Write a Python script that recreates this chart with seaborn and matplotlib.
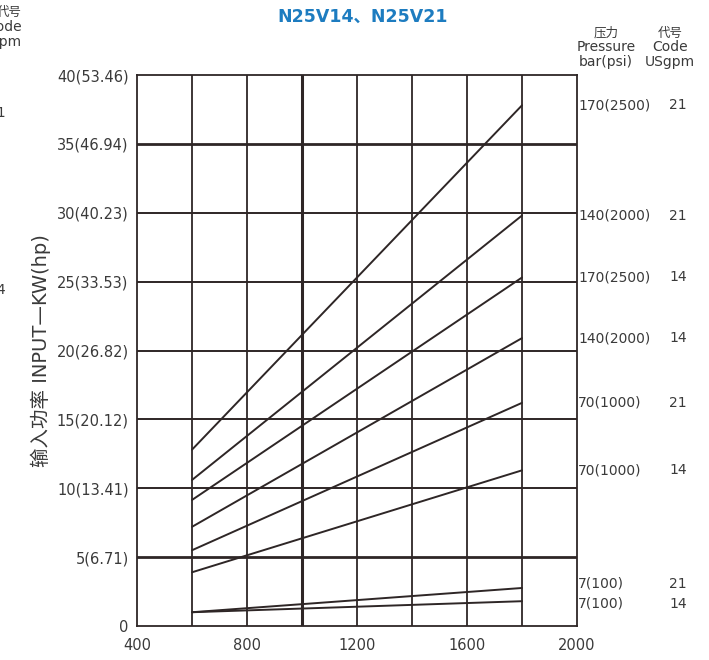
import matplotlib
matplotlib.use("Agg")
import matplotlib.pyplot as plt
import seaborn as sns
import pandas as pd

# speed (rpm) where each curve starts / ends
speed = [600, 1800]

# input power (kW) at start and end speed, one pair per curve, top to bottom
kw_start = [12.8, 10.6, 9.15, 7.2, 5.5, 3.9, 1.0, 1.0]
kw_end = [37.8, 29.8, 25.3, 20.9, 16.2, 11.3, 2.76, 1.8]
pressure_labels = ['170(2500)', '140(2000)', '170(2500)', '140(2000)',
                   '70(1000)', '70(1000)', '7(100)', '7(100)']
code_labels = ['21', '21', '14', '14', '21', '14', '21', '14']

y_ticks = [0, 5, 10, 15, 20, 25, 30, 35, 40]
y_tick_labels = ['0', '5(6.71)', '10(13.41)', '15(20.12)', '20(26.82)',
                 '25(33.53)', '30(40.23)', '35(46.94)', '40(53.46)']
x_ticks = [400, 800, 1200, 1600, 2000]

rows = []
for i in range(len(kw_start)):
    rows.append({'rpm': speed[0], 'kw': kw_start[i], 'curve': i})
    rows.append({'rpm': speed[1], 'kw': kw_end[i], 'curve': i})
df = pd.DataFrame(rows)

sns.set_style("white")
fam = ['DejaVu Sans', 'Noto Sans CJK SC']
plt.rcParams['font.family'] = fam

ink = '#2e2626'
text_c = '#3a3a3a'

fig = plt.figure(figsize=(7.09, 6.60), dpi=100)
ax = fig.add_axes([137 / 709, 34 / 660, 440 / 709, 551 / 660])

# grid
for x in range(600, 2000, 200):
    ax.axvline(x, color=ink, lw=2.2 if x == 1000 else 1.3, zorder=1)
for y in range(5, 40, 5):
    ax.axhline(y, color=ink, lw=2.0 if y in (5, 35) else 1.4, zorder=1)

sns.lineplot(data=df, x='rpm', y='kw', units='curve', estimator=None,
             color=ink, lw=1.4, ax=ax, zorder=3)

ax.set_xlim(400, 2000)
ax.set_ylim(0, 40)
ax.set_xticks(x_ticks)
ax.set_yticks(y_ticks)
ax.set_yticklabels(y_tick_labels)
ax.tick_params(axis='both', labelsize=10.5, colors=text_c, length=4, width=1, pad=2)
ax.tick_params(axis='x', length=0, pad=9)
for s in ax.spines.values():
    s.set_color(ink)
    s.set_linewidth(1.3)
ax.set_xlabel('')
ax.set_ylabel('输入功率 INPUT—KW(hp)', fontsize=14, color=text_c, labelpad=4, family=fam)

# right-hand curve labels
offsets = [0, 0, 0, 0, 0, 0, 0.3, -0.2]
for i in range(len(kw_end)):
    ax.text(1.003, kw_end[i] + offsets[i], pressure_labels[i],
            transform=ax.get_yaxis_transform(), ha='left', va='center',
            fontsize=10, color=text_c)
    ax.text(1.23, kw_end[i] + offsets[i], code_labels[i],
            transform=ax.get_yaxis_transform(), ha='center', va='center',
            fontsize=10, color=text_c)

fig.text(606 / 709, 1 - 33 / 660, '压力', ha='center', va='center', fontsize=9, color=text_c, family=fam)
fig.text(606 / 709, 1 - 47 / 660, 'Pressure', ha='center', va='center', fontsize=10, color=text_c)
fig.text(606 / 709, 1 - 62 / 660, 'bar(psi)', ha='center', va='center', fontsize=10, color=text_c)
fig.text(670 / 709, 1 - 33 / 660, '代号', ha='center', va='center', fontsize=9, color=text_c, family=fam)
fig.text(670 / 709, 1 - 47 / 660, 'Code', ha='center', va='center', fontsize=10, color=text_c)
fig.text(670 / 709, 1 - 62 / 660, 'USgpm', ha='center', va='center', fontsize=10, color=text_c)

# pieces of the neighbouring chart cut off at the left edge
fig.text(22 / 709, 1 - 12 / 660, '代号', ha='right', va='center', fontsize=9, color=text_c, family=fam)
fig.text(22 / 709, 1 - 27 / 660, 'Code', ha='right', va='center', fontsize=10, color=text_c)
fig.text(22 / 709, 1 - 42 / 660, 'USgpm', ha='right', va='center', fontsize=10, color=text_c)
fig.text(6 / 709, 1 - 113 / 660, '21', ha='right', va='center', fontsize=10, color=text_c)
fig.text(6 / 709, 1 - 290 / 660, '14', ha='right', va='center', fontsize=10, color=text_c)

fig.text(363 / 709, 1 - 17 / 660, 'N25V14、N25V21', ha='center', va='center',
         fontsize=12.5, fontweight='bold', color='#1d7cc0', family=fam)

fig.savefig('out.png', dpi=100)
